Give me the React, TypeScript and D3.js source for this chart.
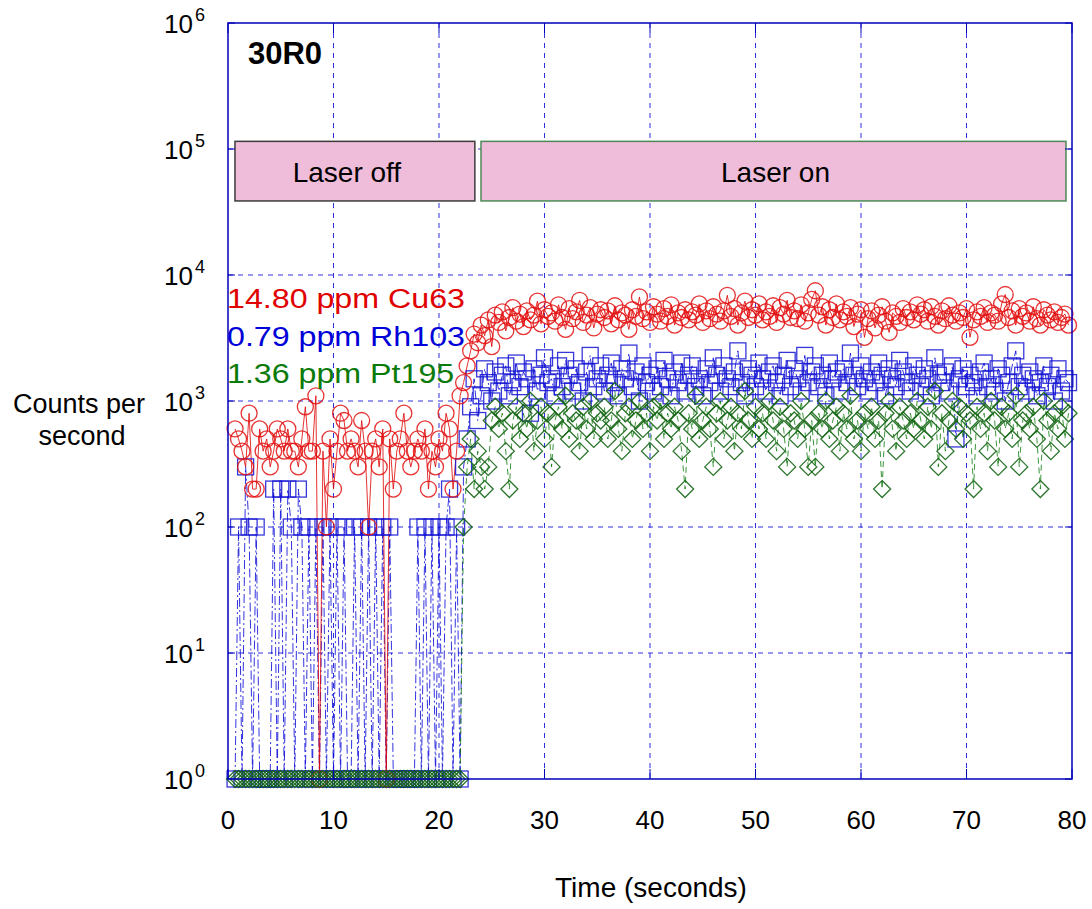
import React from "react";
import * as d3 from "d3";

// acquisition times (s)
const times = [
  0.67,1,1.33,1.67,2,2.33,2.67,3,3.33,3.67,4,4.33,4.67,5,5.33,
  5.67,6,6.33,6.67,7,7.33,7.67,8,8.33,8.67,9,9.33,9.67,10,10.33,
  10.67,11,11.33,11.67,12,12.33,12.67,13,13.33,13.67,14,14.33,14.67,15,15.33,
  15.67,16,16.33,16.67,17,17.33,17.67,18,18.33,18.67,19,19.33,19.67,20,20.33,
  20.67,21,21.33,21.67,22,22.33,22.67,23,23.33,23.67,24,24.33,24.67,25,25.33,
  25.67,26,26.33,26.67,27,27.33,27.67,28,28.33,28.67,29,29.33,29.67,30,30.33,
  30.67,31,31.33,31.67,32,32.33,32.67,33,33.33,33.67,34,34.33,34.67,35,35.33,
  35.67,36,36.33,36.67,37,37.33,37.67,38,38.33,38.67,39,39.33,39.67,40,40.33,
  40.67,41,41.33,41.67,42,42.33,42.67,43,43.33,43.67,44,44.33,44.67,45,45.33,
  45.67,46,46.33,46.67,47,47.33,47.67,48,48.33,48.67,49,49.33,49.67,50,50.33,
  50.67,51,51.33,51.67,52,52.33,52.67,53,53.33,53.67,54,54.33,54.67,55,55.33,
  55.67,56,56.33,56.67,57,57.33,57.67,58,58.33,58.67,59,59.33,59.67,60,60.33,
  60.67,61,61.33,61.67,62,62.33,62.67,63,63.33,63.67,64,64.33,64.67,65,65.33,
  65.67,66,66.33,66.67,67,67.33,67.67,68,68.33,68.67,69,69.33,69.67,70,70.33,
  70.67,71,71.33,71.67,72,72.33,72.67,73,73.33,73.67,74,74.33,74.67,75,75.33,
  75.67,76,76.33,76.67,77,77.33,77.67,78,78.33,78.67,79,79.33,79.67,
];

// counts per second (0 = nothing counted, drawn on the 10^0 line)
const cu63 = [
  600,500,400,300,800,200,200,600,400,500,300,400,600,500,400,
  600,400,400,300,500,900,400,400,1100,0,400,100,500,200,400,
  800,700,400,500,400,300,700,400,100,400,500,300,600,0,500,
  200,400,500,800,400,300,400,500,400,600,200,400,300,500,400,
  800,600,200,400,1100,1400,1900,2500,3400,2900,4000,3300,4400,2700,4800,
  4200,5100,3600,4600,5500,4300,4900,3900,5200,4400,4800,6200,4100,5300,4700,
  5000,4300,5800,4600,3700,5400,4500,5100,6300,4200,4800,5500,3800,4900,5300,
  4600,5200,4100,5700,4400,5000,4800,3700,5300,4700,6700,4500,5100,4200,5600,
  4900,4300,5400,4700,5800,4000,5000,4600,5300,4400,5100,4800,5900,4200,5200,
  4500,5600,4900,4300,5200,6900,4700,5400,4000,5000,6200,4600,5300,4800,5900,
  4400,5100,4700,5700,4200,5500,4900,6300,4600,5200,4500,5800,4300,5000,6400,
  7500,4800,5600,4000,5300,4600,5900,4400,5100,4700,5500,3900,4900,5300,3200,
  4500,5200,3800,4800,5600,4300,3500,5000,4700,4200,5400,4600,5100,4400,5800,
  4900,5300,4300,5600,4700,4000,5200,4500,5700,4800,4300,5000,4600,5400,3200,
  4400,5100,4700,5500,4200,5000,4800,4300,5900,7000,4600,5200,4000,5400,4700,
  5000,4300,5600,4500,4000,5300,4800,4400,5100,4200,4600,4900,4000,
];

const rh103 = [
  0,100,0,300,100,0,100,0,0,0,0,200,0,200,0,
  200,100,0,200,100,0,100,0,100,0,100,0,100,0,100,
  0,100,0,0,100,0,100,0,100,0,100,0,100,0,100,
  0,0,0,0,0,0,0,100,0,100,0,100,0,100,0,
  100,200,0,100,0,300,500,900,1500,700,1100,1800,1400,1000,1700,
  1200,1600,1900,1100,1400,2000,1300,1700,1500,800,1800,1200,1600,2200,1400,
  1500,1100,1900,1300,2100,1600,1200,1800,1400,1000,1700,2300,1300,1500,1900,
  1200,1600,2000,1400,1100,1800,1500,2400,1300,1700,1000,1900,1400,1600,1200,
  1800,1300,2100,1500,1100,1700,1400,2000,1200,1600,1900,1300,1500,1100,1800,
  1400,2200,1600,1200,1900,1500,1300,1700,2500,1400,1100,1800,1600,1300,2000,
  1500,1200,1700,1900,1400,1100,1600,2100,1300,1800,1500,1200,2300,1400,1700,
  1900,1300,1600,1100,2000,1500,1700,1200,1800,1400,2400,1600,1300,1900,1500,
  1200,1700,1400,2000,1600,1100,1800,1500,1300,2100,1700,1400,1200,1900,1600,
  1300,1800,1500,1100,2200,1600,1400,1700,1200,1900,500,1500,1800,1300,1600,
  1400,1100,1700,2000,1300,1500,1200,1800,1600,1000,1400,1900,2500,1300,1600,
  1200,1700,1500,1100,1400,1900,1300,1600,1000,1800,1200,1500,1400,
];

const pt195 = [
  0,0,0,0,0,0,0,0,0,0,0,0,0,0,0,
  0,0,0,0,0,0,0,0,0,0,0,0,0,0,0,
  0,0,0,0,0,0,0,0,0,0,0,0,0,0,0,
  0,0,0,0,0,0,0,0,0,0,0,0,0,0,0,
  0,0,0,0,0,100,300,500,200,400,300,200,300,700,900,
  600,800,400,200,700,900,500,800,600,1000,400,700,900,500,800,
  300,700,900,600,1100,500,800,700,400,900,600,1000,500,800,700,
  900,500,700,1200,600,400,800,900,500,700,1000,600,800,400,900,
  700,1000,500,800,600,900,700,400,200,800,600,1100,500,700,900,
  600,300,800,1000,500,700,900,400,800,600,1200,700,500,900,600,
  800,500,1000,700,400,900,600,300,800,700,500,1000,600,300,700,
  300,800,600,1000,500,700,900,400,800,600,1100,500,700,400,800,
  600,900,500,700,200,800,1000,600,400,900,700,500,800,600,1000,
  700,500,900,600,1200,300,800,400,700,1000,600,900,500,800,700,
  200,900,600,800,400,1000,700,300,900,600,800,500,1100,300,700,
  800,600,900,500,200,1000,700,400,800,600,900,500,800,
];

const xTicks = [0, 10, 20, 30, 40, 50, 60, 70, 80];
const yExponents = [0, 1, 2, 3, 4, 5, 6];

const phases = [
  { label: "Laser off", t0: 0.66, t1: 23.4, stroke: "#3c3c3c" },
  { label: "Laser on", t0: 23.98, t1: 79.43, stroke: "#4d8a58" },
];
const phaseTop = 115000;
const phaseBottom = 38700;

const series = [
  { name: "Cu63", label: "14.80 ppm Cu63", values: cu63, color: "#e00000", markColor: "#e31010", marker: "circle", dash: "none" },
  { name: "Rh103", label: "0.79 ppm Rh103", values: rh103, color: "#0000d8", markColor: "#1414d4", marker: "square", dash: "9,3,2,3" },
  { name: "Pt195", label: "1.36 ppm Pt195", values: pt195, color: "#0a7a0a", markColor: "#156615", marker: "diamond", dash: "6,4" },
];
const drawOrder = ["Rh103", "Cu63", "Pt195"];

const W = 1092, H = 909;
const M = { left: 228, right: 1072, top: 23, bottom: 779 };
const FONT = "'Liberation Sans', Arial, Helvetica, sans-serif";

export default function App() {
  const x = d3.scaleLinear().domain([0, 80]).range([M.left, M.right]);
  const y = d3.scaleLog().domain([1, 1e6]).range([M.bottom, M.top]);
  const yv = (v: number) => y(Math.max(v, 1));

  const line = (vals: number[]) =>
    d3.line<number>().x((_, i) => x(times[i])).y((v) => yv(v))(vals) || "";

  const marker = (kind: string, cx: number, cy: number, color: string, key: number) => {
    if (kind === "circle")
      return <circle key={key} cx={cx} cy={cy} r={8} fill="none" stroke={color} strokeWidth={1.3} strokeOpacity={0.85} />;
    if (kind === "square")
      return <rect key={key} x={cx - 8} y={cy - 8} width={16} height={16} fill="none" stroke={color} strokeWidth={1.3} strokeOpacity={0.85} />;
    const h = 8.5;
    return <path key={key} d={`M${cx},${cy - h}L${cx + h},${cy}L${cx},${cy + h}L${cx - h},${cy}Z`} fill="none" stroke={color} strokeWidth={1.3} strokeOpacity={0.9} />;
  };

  const ordered = drawOrder.map((n) => series.find((s) => s.name === n)!);

  return (
    <svg width={W} height={H} style={{ position: "absolute", left: 0, top: 0, background: "#fff" }} fontFamily={FONT}>
      {/* grid */}
      <g stroke="#3030e0" strokeWidth={1} strokeDasharray="5,5">
        {xTicks.slice(1, -1).map((t) => (
          <line key={"gx" + t} x1={x(t)} x2={x(t)} y1={M.top} y2={M.bottom} />
        ))}
        {yExponents.slice(1, -1).map((e) => (
          <line key={"gy" + e} x1={M.left} x2={M.right} y1={y(10 ** e)} y2={y(10 ** e)} />
        ))}
      </g>

      {/* phase boxes */}
      {phases.map((p) => (
        <g key={p.label}>
          <rect x={x(p.t0)} y={y(phaseTop)} width={x(p.t1) - x(p.t0)} height={y(phaseBottom) - y(phaseTop)}
            fill="#efbcd9" stroke={p.stroke} strokeWidth={1.5} />
          <text x={(x(p.t0) + x(p.t1)) / 2 - (p.label === "Laser off" ? 8 : -2)} y={y(phaseBottom) - 19}
            textAnchor="middle" fontSize={28} fill="#000">{p.label}</text>
        </g>
      ))}

      {/* series lines */}
      {ordered.map((s) => (
        <path key={"l" + s.name} d={line(s.values)} fill="none" stroke={s.color} strokeWidth={1}
          strokeOpacity={0.8} strokeDasharray={s.dash} />
      ))}
      {/* markers */}
      {ordered.map((s) => (
        <g key={"m" + s.name}>
          {s.values.map((v, i) => marker(s.marker, x(times[i]), yv(v), s.markColor, i))}
        </g>
      ))}

      {/* frame and ticks */}
      <rect x={M.left} y={M.top} width={M.right - M.left} height={M.bottom - M.top} fill="none" stroke="#0000b8" strokeWidth={1.5} />
      <g stroke="#0000b8" strokeWidth={1}>
        {xTicks.map((t) => (
          <g key={"tx" + t}>
            <line x1={x(t)} x2={x(t)} y1={M.bottom} y2={M.bottom - 10} />
            <line x1={x(t)} x2={x(t)} y1={M.top} y2={M.top + 10} />
          </g>
        ))}
        {yExponents.map((e) => (
          <g key={"ty" + e}>
            <line x1={M.left} x2={M.left + 7} y1={y(10 ** e)} y2={y(10 ** e)} />
            <line x1={M.right} x2={M.right - 7} y1={y(10 ** e)} y2={y(10 ** e)} />
          </g>
        ))}
      </g>

      {/* tick labels */}
      {xTicks.map((t) => (
        <text key={"lx" + t} x={x(t)} y={829} textAnchor="middle" fontSize={26} fill="#000">{t}</text>
      ))}
      {yExponents.map((e) => (
        <g key={"ly" + e}>
          <text x={193} y={y(10 ** e) + 10} textAnchor="end" fontSize={26} fill="#000">10</text>
          <text x={195} y={y(10 ** e) - 2} fontSize={18} fill="#000">{e}</text>
        </g>
      ))}

      {/* axis titles */}
      <text x={651} y={897} textAnchor="middle" fontSize={28} fill="#000">Time (seconds)</text>
      <text x={79} y={413} textAnchor="middle" fontSize={27} fill="#000">Counts per</text>
      <text x={82} y={445} textAnchor="middle" fontSize={27} fill="#000">second</text>

      {/* sample id and concentrations */}
      <text x={248} y={64} fontSize={31} fontWeight="bold" fill="#000">30R0</text>
      {series.map((s, i) => (
        <text key={"lab" + s.name} transform={`translate(227,${308 + i * 37.5}) scale(1.15,1)`}
          fontSize={28} fill={s.color}>{s.label}</text>
      ))}
    </svg>
  );
}
